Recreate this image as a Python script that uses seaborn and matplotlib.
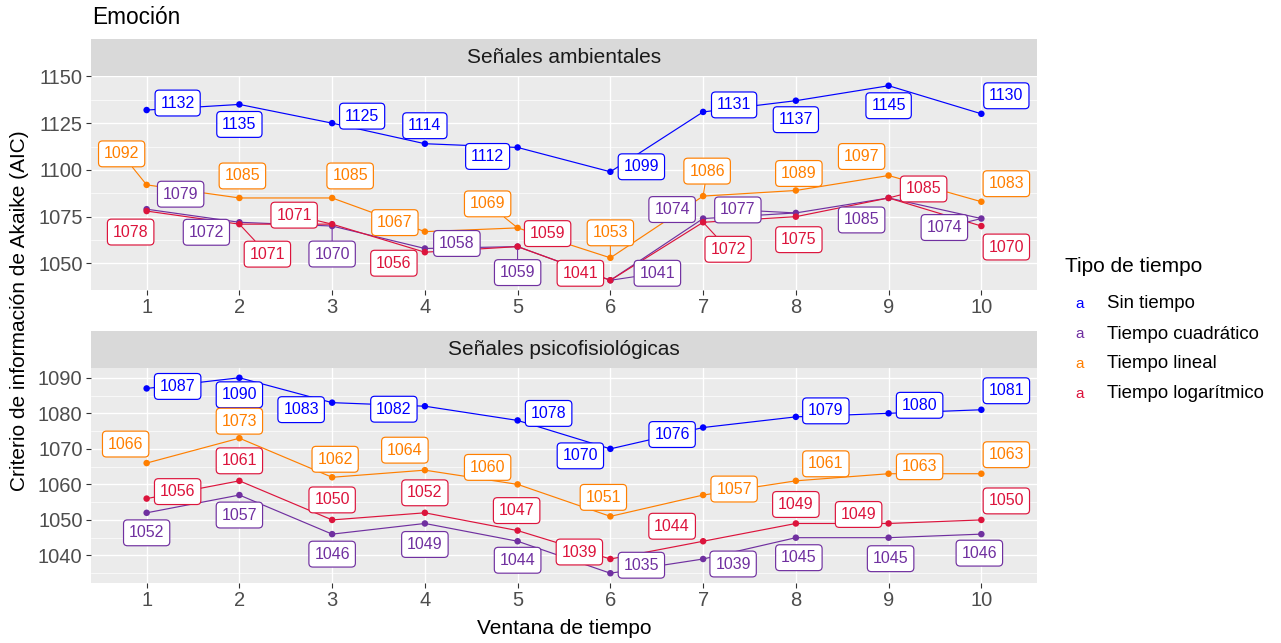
import matplotlib
matplotlib.use("Agg")
import matplotlib.pyplot as plt
import seaborn as sns
import pandas as pd
import numpy as np
from matplotlib.patches import Rectangle

# ---------------- data ----------------
ventanas = [1, 2, 3, 4, 5, 6, 7, 8, 9, 10]
tipos = ["Sin tiempo", "Tiempo cuadrático", "Tiempo lineal", "Tiempo logarítmico"]
paneles = ["Señales ambientales", "Señales psicofisiológicas"]

amb_sin = [1132, 1135, 1125, 1114, 1112, 1099, 1131, 1137, 1145, 1130]
amb_cuad = [1079, 1072, 1070, 1058, 1059, 1041, 1074, 1077, 1085, 1074]
amb_lin = [1092, 1085, 1085, 1067, 1069, 1053, 1086, 1089, 1097, 1083]
amb_log = [1078, 1071, 1071, 1056, 1059, 1041, 1072, 1075, 1085, 1070]

psi_sin = [1087, 1090, 1083, 1082, 1078, 1070, 1076, 1079, 1080, 1081]
psi_cuad = [1052, 1057, 1046, 1049, 1044, 1035, 1039, 1045, 1045, 1046]
psi_lin = [1066, 1073, 1062, 1064, 1060, 1051, 1057, 1061, 1063, 1063]
psi_log = [1056, 1061, 1050, 1052, 1047, 1039, 1044, 1049, 1049, 1050]

# ---------------- style ----------------
colores = {"Sin tiempo": "#0000FF", "Tiempo cuadrático": "#7030A0",
           "Tiempo lineal": "#FF7F00", "Tiempo logarítmico": "#DC143C"}

# label offsets (pixels, +x right, +y down) emulating ggrepel placement
offs_amb = {
    "Sin tiempo": [(31, -7), (0, 20), (30, -7), (0, -18), (-30, 9), (31, -5), (31, -7), (0, 19), (0, 20), (25, -18)],
    "Tiempo cuadrático": [(34, -15), (-33, 10), (0, 28), (32, -5), (0, 26), (47, -7), (-31, -9), (-58, -3), (-27, 22), (-37, 9)],
    "Tiempo lineal": [(-25, -31), (3, -22), (18, -22), (-30, -9), (-30, -24), (0, -25), (4, -25), (3, -17), (-27, -19), (25, -18)],
    "Tiempo logarítmico": [(-16, 21), (28, 30), (-38, -9), (-31, 11), (30, -13), (-30, -7), (25, 27), (3, 23), (35, -9), (25, 21)],
}
offs_psi = {
    "Sin tiempo": [(31, -2), (0, 17), (-31, 7), (-31, 3), (31, -7), (-30, 7), (-31, 7), (30, -6), (31, -8), (25, -19)],
    "Tiempo cuadrático": [(0, 20), (0, 20), (0, 20), (0, 21), (0, 19), (31, -8), (30, 5), (3, 20), (2, 21), (-2, 19)],
    "Tiempo lineal": [(-21, -19), (0, -17), (3, -18), (-20, -20), (-30, -17), (-7, -19), (31, -6), (30, -17), (31, -7), (25, -19)],
    "Tiempo logarítmico": [(31, -7), (0, -20), (0, -20), (0, -20), (-1, -20), (-31, -7), (-31, -15), (0, -19), (-30, -9), (25, -19)],
}

rows = []
for panel, series in [(paneles[0], [amb_sin, amb_cuad, amb_lin, amb_log]),
                      (paneles[1], [psi_sin, psi_cuad, psi_lin, psi_log])]:
    for tipo, vals in zip(tipos, series):
        for v, a in zip(ventanas, vals):
            rows.append({"panel": panel, "tipo": tipo, "ventana": v, "aic": a})
df = pd.DataFrame(rows)

sns.set_theme(style="darkgrid")
plt.rcParams["font.family"] = ["Liberation Sans", "DejaVu Sans"]

W, H = 1281, 643
fig = plt.figure(figsize=(W / 100, H / 100), dpi=100)
fig.patch.set_facecolor("white")

def fx(px):
    return px / W

def fy(py):
    return 1 - py / H

panel_px = [(76, 290), (368, 583)]
strip_px = [(39, 76), (331, 368)]
yticks = [[1050, 1075, 1100, 1125, 1150], [1040, 1050, 1060, 1070, 1080, 1090]]
yminor = [[1062.5, 1087.5, 1112.5, 1137.5], [1035, 1045, 1055, 1065, 1075, 1085]]
left_px, right_px = 91, 1037
px_per_pt = 100 / 72
half_w, half_h = 24, 14.5

for i, panel in enumerate(paneles):
    top, bot = panel_px[i]
    ax = fig.add_axes([fx(left_px), fy(bot), fx(right_px - left_px), (bot - top) / H])
    ax.set_facecolor("#EBEBEB")
    sub = df[df["panel"] == panel]
    sns.lineplot(data=sub, x="ventana", y="aic", hue="tipo", hue_order=tipos,
                 palette=colores, ax=ax, legend=False, linewidth=0.85, zorder=3)
    sns.scatterplot(data=sub, x="ventana", y="aic", hue="tipo", hue_order=tipos,
                    palette=colores, ax=ax, legend=False, s=22, edgecolor="none", zorder=4)
    lo, hi = sub["aic"].min(), sub["aic"].max()
    rng = hi - lo
    ax.set_xlim(0.4, 10.6)
    ax.set_ylim(lo - 0.05 * rng, hi + 0.05 * rng)
    ax.set_xticks(ventanas)
    ax.set_xticklabels([str(v) for v in ventanas])
    ax.set_yticks(yticks[i])
    ax.set_yticks(yminor[i], minor=True)
    ax.grid(which="major", color="white", linewidth=1.0)
    ax.grid(which="minor", axis="y", color="white", linewidth=0.5)
    ax.grid(which="minor", axis="x", visible=False)
    ax.set_axisbelow(True)
    for s in ax.spines.values():
        s.set_visible(False)
    ax.tick_params(axis="both", which="major", length=3.6, width=0.8, color="#333333",
                   labelsize=14.5, labelcolor="#4D4D4D", pad=2.5, bottom=True, left=True)
    ax.tick_params(axis="both", which="minor", length=0)
    ax.set_xlabel("")
    ax.set_ylabel("")

    offs = offs_amb if i == 0 else offs_psi
    for tipo in tipos:
        s_ = sub[sub["tipo"] == tipo]
        c = colores[tipo]
        for (x, y), (dx, dy) in zip(zip(s_["ventana"], s_["aic"]), offs[tipo]):
            gx = max(abs(dx) - half_w, 0)
            gy = max(abs(dy) - half_h, 0)
            dist = np.hypot(gx, gy)
            arrow = None
            if dist > 10.2:
                arrow = dict(arrowstyle="-", color=c, lw=0.8, shrinkA=0, shrinkB=2)
            ax.annotate(str(int(round(y))), xy=(x, y), xytext=(dx / px_per_pt, -dy / px_per_pt),
                        textcoords="offset points", ha="center", va="center",
                        fontsize=11.5, color=c, zorder=6,
                        bbox=dict(boxstyle="round,pad=0.34,rounding_size=0.25", fc="white",
                                  ec=c, lw=0.85),
                        arrowprops=arrow)

    # strip
    st, sb = strip_px[i]
    fig.patches.append(Rectangle((fx(left_px), fy(sb)), fx(right_px - left_px), (sb - st) / H,
                                 transform=fig.transFigure, facecolor="#D9D9D9",
                                 edgecolor="none", zorder=0))
    fig.text(fx((left_px + right_px) / 2), fy((st + sb) / 2), panel, ha="center", va="center",
             fontsize=15, color="#1A1A1A")

# titles
fig.text(fx(92), fy(18), "Emoción", ha="left", va="center", fontsize=16.3, color="black")
fig.text(fx(564), fy(628), "Ventana de tiempo", ha="center", va="center", fontsize=15, color="black")
fig.text(fx(20), fy(311), "Criterio de información de Akaike (AIC)", ha="center", va="center",
         rotation=90, fontsize=15, color="black")

# legend (text keys as in ggplot geom_label legend)
fig.text(fx(1065), fy(267), "Tipo de tiempo", ha="left", va="center", fontsize=15, color="black")
for k, tipo in enumerate(tipos):
    yy = 304 + 30 * k
    fig.text(fx(1080), fy(yy), "a", ha="center", va="center", fontsize=11, color=colores[tipo])
    fig.text(fx(1107), fy(yy), tipo, ha="left", va="center", fontsize=13.4, color="black")

fig.savefig("out.png", dpi=100, facecolor="white")
